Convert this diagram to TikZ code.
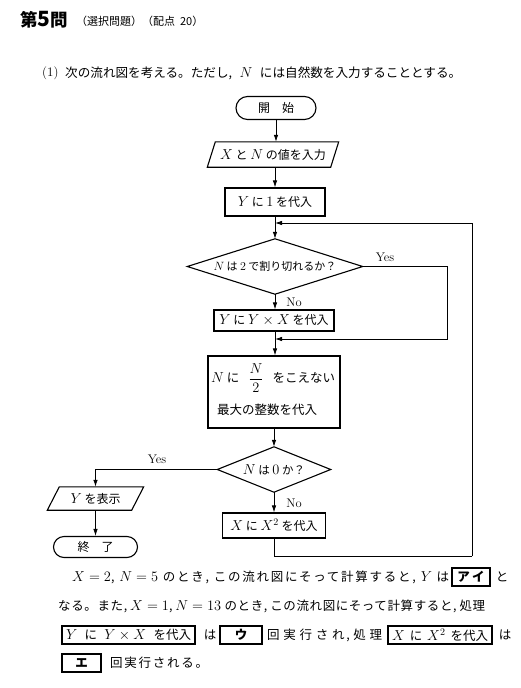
\documentclass[tikz,border=0pt]{standalone}
\usepackage{fontspec}
\usepackage{amsmath}
\newfontfamily\jp{Noto Sans CJK JP}
\newfontfamily\jpsp[LetterSpace=14]{Noto Sans CJK JP}
\newfontfamily\jpspb[LetterSpace=5]{Noto Sans CJK JP}
\usetikzlibrary{arrows.meta}
\newcommand{\mth}[1]{{\fontsize{14}{16}\selectfont$#1$}}
\newcommand{\gap}{\hskip 3pt plus 1fil minus 2pt}
\tikzset{
  shp/.style={line width=1.1pt},
  conn/.style={line width=0.8pt},
  arr/.style={conn,-{Latex[length=7pt,width=4.5pt]}},
  jtxt/.style={inner sep=0pt,font=\jp\fontsize{12}{14}\selectfont},
  procbox/.style={jtxt,draw,shp},
  term/.style={jtxt,draw,shp,rounded corners=#1},
  lab/.style={inner sep=0pt,font=\fontsize{12.5}{14}\selectfont},
  btxt/.style={inner sep=0pt,font=\jpsp\fontsize{12.5}{14}\selectfont},
  ansbox/.style={inner sep=0pt,font=\jp\fontsize{12.5}{14}\selectfont,draw,line width=1.3pt,minimum height=18pt},
}
\begin{document}
\begin{tikzpicture}[x=1pt,y=-1pt]
\useasboundingbox (0,0) rectangle (520,688);
\fill[white] (0,0) rectangle (520,688);

% title
\node[inner sep=0pt,anchor=west,font=\jp\bfseries\fontsize{17.5}{19}\selectfont] (title) at (20,20) {第{\fontsize{21}{21}\selectfont 5}問};
\node[inner sep=0pt,anchor=west,font=\jp\fontsize{11}{13}\selectfont] (sub) at (76,21) {（選択問題）（配点\ \ 20）};
\node[inner sep=0pt,anchor=west,font=\fontsize{13}{15}\selectfont] (q1num) at (42,73) {(1)};
\node[inner sep=0pt,anchor=west,font=\jp\fontsize{12.6}{15}\selectfont] (q1) at (65,73) {\hbox to 396pt{次の流れ図を考える。ただし,\gap \mth{N}\gap には自然数を入力することとする。}};

% flowchart
\node[term=11.5pt,minimum width=80pt,minimum height=23pt] (start) at (276,108) {開\quad 始};
\node[jtxt,minimum width=123pt,minimum height=25pt] (p1) at (273,154.5) {\mth{X} と \mth{N} の値を入力};
\draw[shp] ([xshift=4pt]p1.north west) -- ([xshift=4pt]p1.north east) -- ([xshift=-4pt]p1.south east) -- ([xshift=-4pt]p1.south west) -- cycle;
\node[procbox,minimum width=100pt,minimum height=28pt] (b1) at (275,202) {\mth{Y} に \mth{1} を代入};
\node[inner sep=0pt,minimum width=175pt,minimum height=55pt,font=\jp\fontsize{11}{13}\selectfont] (d1) at (275,266.5) {{\fontsize{13}{15}\selectfont$N$} は {\fontsize{13}{15}\selectfont$2$} で割り切れるか？};
\draw[shp] (d1.north) -- (d1.east) -- (d1.south) -- (d1.west) -- cycle;
\node[procbox,minimum width=120pt,minimum height=21pt] (b2) at (274,320.5) {\mth{Y} に \mth{Y\times X} を代入};
\node[procbox,minimum width=132pt,minimum height=72pt] (b3) at (274,392) {};
\node[jtxt,anchor=west,font=\jp\fontsize{12.5}{14}\selectfont] (b3a) at (211,378) {\hbox to 124pt{\mth{N} に\gap{\fontsize{14}{16}\selectfont$\dfrac{N}{2}$}\gap をこえない}};
\node[jtxt,anchor=west,font=\jp\fontsize{12.5}{14}\selectfont] (b3b) at (217,410) {最大の整数を代入};
\node[inner sep=0pt,minimum width=113pt,minimum height=45pt,font=\jp\fontsize{11.5}{13}\selectfont] (d2) at (274,469.5) {\mth{N} は \mth{0} か？};
\draw[shp] (d2.north) -- (d2.east) -- (d2.south) -- (d2.west) -- cycle;
\node[procbox,minimum width=103pt,minimum height=25pt] (b4) at (274,525.5) {\mth{X} に \mth{X^2} を代入};
\node[jtxt,minimum width=84pt,minimum height=23pt] (p2) at (95.5,498.5) {\mth{Y} を表示};
\draw[shp] ([xshift=6pt]p2.north west) -- ([xshift=6pt]p2.north east) -- ([xshift=-6pt]p2.south east) -- ([xshift=-6pt]p2.south west) -- cycle;
\node[term=10.5pt,minimum width=84pt,minimum height=21pt] (endn) at (95.5,547) {終\quad 了};

% labels
\node[lab] (yes1) at (385,257) {Yes};
\node[lab] (no1) at (294,302) {No};
\node[lab] (yes2) at (157,459) {Yes};
\node[lab] (no2) at (294,503) {No};

% connectors
\coordinate (j1) at (275,223);
\coordinate (j2) at (275,339);
\coordinate (yc) at (447,339);
\coordinate (lb) at (472,556);
\draw[arr] (start) -- (start|-p1.north);
\draw[arr] (p1.south-|b1) -- (b1);
\draw[arr] (b1) -- (d1.north);
\draw[arr] (d1.south) -- (d1.south|-b2.north);
\draw[arr] (b2.south-|j2) -- (b3.north-|j2);
\draw[arr] (d1.east) -| (yc) -- (j2);
\draw[arr] (b3.south-|d2) -- (d2.north);
\draw[arr] (d2.south) -- (d2.south|-b4.north);
\draw[arr] (d2.west) -| (p2.north);
\draw[arr] (p2.south) -- (endn.north);
\draw[conn] (b4.south) |- (lb);
\draw[arr] (lb) |- (j1);

% bottom text
\node[btxt,anchor=west] (l1) at (72,577) {\hbox to 377pt{\mth{X = 2},\gap \mth{N = 5} のとき,\gap この流れ図にそって計算すると,\gap \mth{Y} は}};
\node[ansbox,minimum width=38pt] (a1) at (471,577) {\bfseries ア\,イ};
\node[btxt] (l1e) at (502,577) {と};
\node[btxt,anchor=west,font=\jpspb\fontsize{12.5}{14}\selectfont] (l2) at (58,606) {\hbox to 427pt{なる。また,\gap \mth{X = 1},\gap \mth{N = 13} のとき,\gap この流れ図にそって計算すると,\gap 処理}};
\node[ansbox,line width=1.1pt,minimum width=133pt] (r1) at (128.5,635) {\hbox to 125pt{\mth{Y}\gap に\gap \mth{Y \times X}\gap を代入}};
\node[btxt] (l3a) at (210,635) {は};
\node[ansbox,minimum width=42pt] (a2) at (241,635) {\bfseries ウ};
\node[btxt,anchor=west] (l3b) at (267,635) {\hbox to 115pt{回\hfill 実\hfill 行\hfill さ\hfill れ,\hfill 処\hfill 理}};
\node[ansbox,line width=1.1pt,minimum width=104pt] (r2) at (440,635) {\hbox to 96pt{\mth{X}\gap に\gap \mth{X^2}\gap を代入}};
\node[btxt] (l3c) at (505,635) {は};
\node[ansbox,minimum width=39pt] (a3) at (81.5,663) {\bfseries エ};
\node[btxt,anchor=west] (l4) at (110,663) {回実行される。};
\end{tikzpicture}
\end{document}
